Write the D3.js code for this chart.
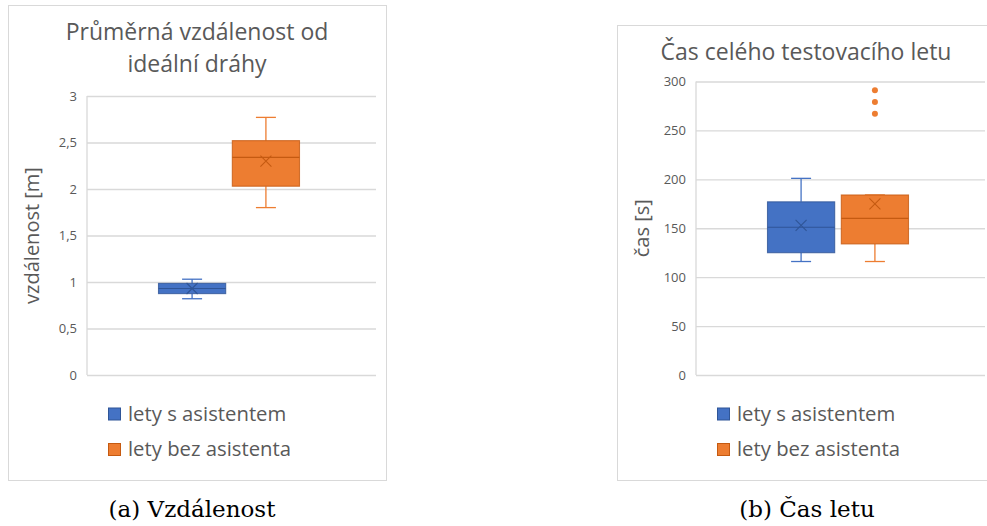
<!DOCTYPE html>
<html><head><meta charset="utf-8">
<script src="https://cdn.jsdelivr.net/npm/d3@7"></script>
<style>
html,body{margin:0;padding:0;background:#fff;}
svg{display:block;}
</style></head>
<body><svg id="c" width="987" height="526"></svg>
<script>
// ---- data ----
const series = ["lety s asistentem", "lety bez asistenta"];
const colors = ["#4472C4", "#ED7D31"];
const strokes = ["#2F5597", "#C55A11"];

// chart (a): average distance from ideal path [m]
const distTitle = ["Průměrná vzdálenost od", "ideální dráhy"];
const distAxisTitle = "vzdálenost [m]";
const distTicks = [0, 0.5, 1, 1.5, 2, 2.5, 3];
const distMin = [0.82, 1.80];
const distQ1 = [0.875, 2.03];
const distMedian = [0.93, 2.34];
const distQ3 = [0.985, 2.52];
const distMax = [1.03, 2.77];
const distMean = [0.93, 2.30];
const distOutliers = [[], []];
const distCaption = "(a) Vzdálenost";

// chart (b): total flight time [s]
const timeTitle = ["Čas celého testovacího letu"];
const timeAxisTitle = "čas [s]";
const timeTicks = [0, 50, 100, 150, 200, 250, 300];
const timeMin = [116, 116];
const timeQ1 = [125, 134];
const timeMedian = [151, 160];
const timeQ3 = [177, 184];
const timeMax = [201, 184];
const timeMean = [153, 175];
const timeOutliers = [[], [267, 279, 291]];
const timeCaption = "(b) Čas letu";

// ---- drawing ----
const cz = d3.formatLocale({decimal: ",", thousands: " ", grouping: [3], currency: ["", " Kč"]});
const fmt = cz.format("~g");
const svg = d3.select("#c");
const FONT = "'Open Sans', sans-serif";
const TXT = "#595959", GRID = "#D9D9D9";

function drawPanel(cfg) {
  const g = svg.append("g");
  const px = cfg.px, py = cfg.py, pw = 378, ph = cfg.ph;
  g.append("rect").attr("x", px + 0.5).attr("y", py + 0.5).attr("width", pw).attr("height", ph)
    .attr("fill", "#fff").attr("stroke", GRID).attr("stroke-width", 1);
  const cx = px + pw / 2;
  cfg.title.forEach((t, i) => {
    g.append("text").attr("x", cx).attr("y", cfg.titleY + i * 32).attr("text-anchor", "middle")
      .attr("font-family", FONT).attr("font-size", 23).attr("fill", TXT).text(t);
  });
  const x0 = px + 79, x1 = px + 368;
  const y = d3.scaleLinear().domain([cfg.ticks[0], cfg.ticks[cfg.ticks.length - 1]]).range([cfg.yBottom, cfg.yTop]);
  const axis = d3.axisLeft(y).tickValues(cfg.ticks).tickFormat(fmt).tickSize(-(x1 - x0)).tickPadding(10);
  const ag = g.append("g").attr("transform", `translate(${x0},0)`).call(axis);
  ag.select(".domain").remove();
  ag.selectAll(".tick line").attr("stroke", GRID).attr("stroke-width", 1.3);
  ag.selectAll(".tick text").attr("font-family", FONT).attr("font-size", 13).attr("fill", TXT);
  g.append("line").attr("x1", x0).attr("x2", x0).attr("y1", cfg.yTop).attr("y2", cfg.yBottom)
    .attr("stroke", GRID).attr("stroke-width", 1.3);
  g.append("text").attr("transform", `translate(${px + cfg.axisTitleDx},${(cfg.yTop + cfg.yBottom) / 2}) rotate(-90)`)
    .attr("text-anchor", "middle").attr("font-family", FONT).attr("font-size", 20).attr("fill", TXT).text(cfg.axisTitle);
  const xc = d3.scaleBand().domain(["c"]).range([x0, x1 - 5]);
  const mid = xc("c") + xc.bandwidth() / 2;
  const xs = d3.scaleBand().domain(series).range([mid - 70.5, mid + 70.5]).paddingInner(0.09);
  const bw = xs.bandwidth();
  series.forEach((s, i) => {
    const bx = xs(s), bc = bx + bw / 2;
    const col = colors[i], st = strokes[i];
    const wg = g.append("g");
    wg.append("line").attr("x1", bc).attr("x2", bc).attr("y1", y(cfg.max[i])).attr("y2", y(cfg.q3[i])).attr("stroke", col).attr("stroke-width", 1.3);
    wg.append("line").attr("x1", bc).attr("x2", bc).attr("y1", y(cfg.q1[i])).attr("y2", y(cfg.min[i])).attr("stroke", col).attr("stroke-width", 1.3);
    [cfg.max[i], cfg.min[i]].forEach(v => {
      wg.append("line").attr("x1", bc - 10).attr("x2", bc + 10).attr("y1", y(v)).attr("y2", y(v)).attr("stroke", col).attr("stroke-width", 1.3);
    });
    wg.append("rect").attr("x", bx).attr("y", y(cfg.q3[i])).attr("width", bw).attr("height", y(cfg.q1[i]) - y(cfg.q3[i]))
      .attr("fill", col).attr("stroke", st).attr("stroke-width", 1.1).attr("stroke-opacity", 0.8);
    wg.append("line").attr("x1", bx).attr("x2", bx + bw).attr("y1", y(cfg.median[i])).attr("y2", y(cfg.median[i]))
      .attr("stroke", st).attr("stroke-width", 1.2);
    const my = y(cfg.mean[i]), r = 5.5;
    wg.append("path").attr("d", `M${bc - r},${my - r}L${bc + r},${my + r}M${bc - r},${my + r}L${bc + r},${my - r}`)
      .attr("stroke", st).attr("stroke-width", 1.1).attr("fill", "none");
    cfg.outliers[i].forEach(v => {
      wg.append("circle").attr("cx", bc).attr("cy", y(v)).attr("r", 3).attr("fill", col);
    });
  });
  series.forEach((s, i) => {
    const ly = cfg.legendY + i * 35.5;
    g.append("rect").attr("x", px + 100.5).attr("y", ly + 0.5).attr("width", 12).attr("height", 12)
      .attr("fill", colors[i]).attr("stroke", strokes[i]).attr("stroke-width", 1);
    g.append("text").attr("x", px + 120).attr("y", ly + 13).attr("font-family", FONT).attr("font-size", 20.3)
      .attr("fill", TXT).text(s);
  });
  svg.append("text").attr("x", cfg.captionX).attr("y", 517).attr("text-anchor", "middle")
    .attr("font-family", "'DejaVu Serif', serif").attr("font-size", 23).attr("fill", "#000").text(cfg.caption);
}

drawPanel({px: 8, py: 5, ph: 475, title: distTitle, titleY: 40, ticks: distTicks, yTop: 96, yBottom: 375,
  axisTitle: distAxisTitle, axisTitleDx: 31, min: distMin, q1: distQ1, median: distMedian, q3: distQ3, max: distMax,
  mean: distMean, outliers: distOutliers, legendY: 407.5, caption: distCaption, captionX: 192});
drawPanel({px: 617, py: 25, ph: 455, title: timeTitle, titleY: 60, ticks: timeTicks, yTop: 81.5, yBottom: 375,
  axisTitle: timeAxisTitle, axisTitleDx: 32, min: timeMin, q1: timeQ1, median: timeMedian, q3: timeQ3, max: timeMax,
  mean: timeMean, outliers: timeOutliers, legendY: 407.5, caption: timeCaption, captionX: 807});
</script></body></html>
